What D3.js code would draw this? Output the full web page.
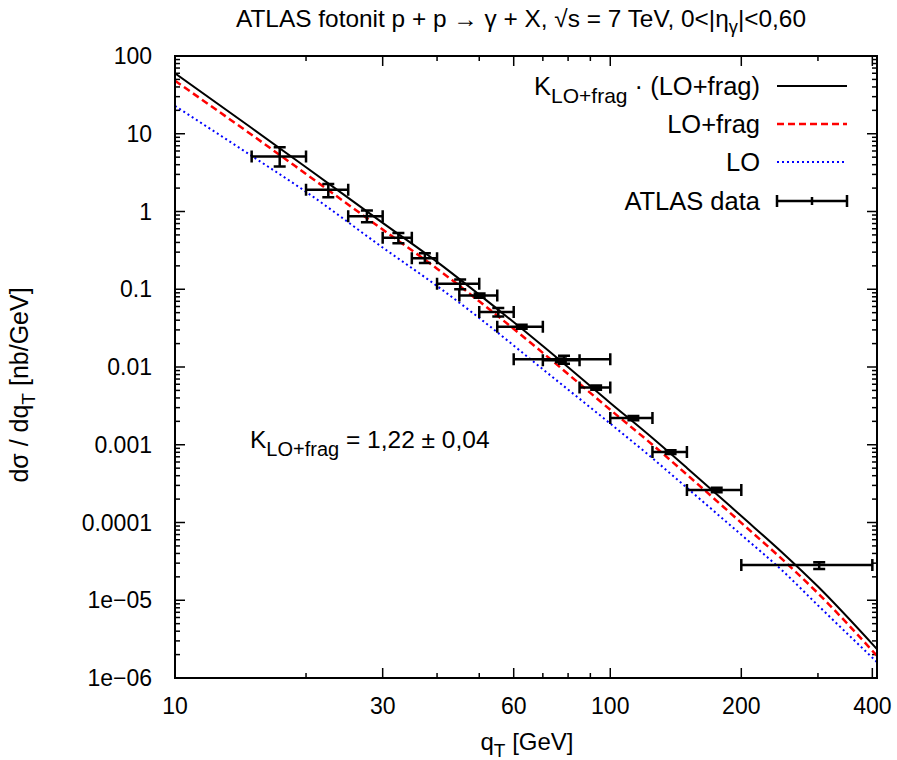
<!DOCTYPE html>
<html>
<head>
<meta charset="utf-8">
<script src="https://cdn.jsdelivr.net/npm/d3@7"></script>
<style>
  body { margin: 0; background: #fff; }
  text { font-family: "Liberation Sans", Arial, sans-serif; fill: #000; }
</style>
</head>
<body>
<svg id="chart" width="897" height="760"></svg>
<script>
// curves (log-log)
var curveX   = [10, 15, 20, 30, 40, 50, 70, 100, 125, 150, 200, 250, 300, 410];
var kLoFrag  = [60, 11.85, 3.71, 0.715, 0.225, 0.0853, 0.0186, 0.00345, 0.00122, 5.04e-4, 1.21e-4, 3.97e-5, 1.5e-5, 2.35e-6];
var loFrag   = [48, 9.7, 3.04, 0.586, 0.184, 0.070, 0.0152, 0.00282, 0.0010, 4.13e-4, 9.9e-5, 3.25e-5, 1.23e-5, 1.93e-6];
var loOnly   = [22.8, 5.19, 1.79, 0.344, 0.110, 0.0427, 0.00935, 0.00187, 6.72e-4, 2.79e-4, 6.95e-5, 2.33e-5, 8.6e-6, 1.6e-6];

// ATLAS data points
var dataX   = [17.4, 22.5, 27.6, 32.6, 37.5, 45.2, 50.1, 55.3, 62.6, 78.3, 77.0, 92.8, 113, 137.6, 175.6, 302];
var dataXlo = [15, 20, 25, 30, 35, 40, 45, 50, 55, 60, 70, 85, 100, 125, 150, 200];
var dataXhi = [20, 25, 30, 35, 40, 50, 55, 60, 70, 100, 85, 100, 125, 150, 200, 400];
var dataY   = [5.1, 1.9, 0.87, 0.46, 0.25, 0.118, 0.083, 0.051, 0.033, 0.0126, 0.0122, 0.00545, 0.00221, 8.06e-4, 2.62e-4, 2.84e-5];
var dataYlo = [3.8, 1.52, 0.73, 0.39, 0.217, 0.10, 0.078, 0.0447, 0.031, 0.0110, 0.0115, 0.0051, 0.00207, 7.6e-4, 2.45e-4, 2.52e-5];
var dataYhi = [6.7, 2.25, 1.03, 0.53, 0.29, 0.133, 0.088, 0.0573, 0.035, 0.0140, 0.0129, 0.0058, 0.00235, 8.5e-4, 2.8e-4, 3.08e-5];

// ticks
var xTicks = [10, 30, 60, 100, 200, 400];
var xMinor = [20, 40, 50, 70, 80, 90, 300];
var yTicks = [100, 10, 1, 0.1, 0.01, 0.001, 0.0001, 1e-5, 1e-6];
var yTickLabels = ["100", "10", "1", "0.1", "0.01", "0.001", "0.0001", "1e\u221205", "1e\u221206"];

var svg = d3.select("#chart");
var pLeft = 175, pRight = 877, pTop = 56, pBottom = 678;

var x = d3.scaleLog().domain([10, 410]).range([pLeft, pRight]);
var y = d3.scaleLog().domain([1e-6, 100]).range([pBottom, pTop]);

svg.append("defs").append("clipPath").attr("id", "plotclip")
  .append("rect").attr("x", pLeft).attr("y", pTop)
  .attr("width", pRight - pLeft).attr("height", pBottom - pTop);

// minor y ticks 2..9 in each decade
var yMinor = [];
yTicks.forEach(function(t) {
  if (t < 100) for (var k = 2; k <= 9; k++) yMinor.push(t * k);
});

var ticks = svg.append("g").attr("stroke", "#000").attr("stroke-width", 1.5);
var major = 10, minor = 5;
xTicks.forEach(function(t) {
  ticks.append("line").attr("x1", x(t)).attr("x2", x(t)).attr("y1", pBottom).attr("y2", pBottom - major);
  ticks.append("line").attr("x1", x(t)).attr("x2", x(t)).attr("y1", pTop).attr("y2", pTop + major);
});
xMinor.forEach(function(t) {
  ticks.append("line").attr("x1", x(t)).attr("x2", x(t)).attr("y1", pBottom).attr("y2", pBottom - minor);
  ticks.append("line").attr("x1", x(t)).attr("x2", x(t)).attr("y1", pTop).attr("y2", pTop + minor);
});
yTicks.forEach(function(t) {
  ticks.append("line").attr("x1", pLeft).attr("x2", pLeft + major).attr("y1", y(t)).attr("y2", y(t));
  ticks.append("line").attr("x1", pRight).attr("x2", pRight - major).attr("y1", y(t)).attr("y2", y(t));
});
yMinor.forEach(function(t) {
  ticks.append("line").attr("x1", pLeft).attr("x2", pLeft + minor).attr("y1", y(t)).attr("y2", y(t));
  ticks.append("line").attr("x1", pRight).attr("x2", pRight - minor).attr("y1", y(t)).attr("y2", y(t));
});

// tick labels
svg.append("g").selectAll("text").data(xTicks).enter().append("text")
  .attr("x", function(d) { return x(d); })
  .attr("y", 714)
  .attr("text-anchor", "middle")
  .attr("font-size", "23px")
  .text(function(d) { return d; });

svg.append("g").selectAll("text").data(yTicks).enter().append("text")
  .attr("x", 152)
  .attr("y", function(d) { return y(d) + 8; })
  .attr("text-anchor", "end")
  .attr("font-size", "23px")
  .text(function(d, i) { return yTickLabels[i]; });

// curves
var line = d3.line()
  .x(function(d) { return x(d[0]); })
  .y(function(d) { return y(d[1]); })
  .curve(d3.curveMonotoneX);

var plot = svg.append("g").attr("clip-path", "url(#plotclip)");

function series(vals) { return curveX.map(function(v, i) { return [v, vals[i]]; }); }

plot.append("path").datum(series(loOnly))
  .attr("fill", "none").attr("stroke", "#0000ff").attr("stroke-width", 2)
  .attr("stroke-dasharray", "2,3").attr("d", line);
plot.append("path").datum(series(loFrag))
  .attr("fill", "none").attr("stroke", "#ff0000").attr("stroke-width", 2.5)
  .attr("stroke-dasharray", "7,4").attr("d", line);
plot.append("path").datum(series(kLoFrag))
  .attr("fill", "none").attr("stroke", "#000").attr("stroke-width", 2)
  .attr("d", line);

// error bars
var cap = 6;
var eb = plot.append("g").attr("stroke", "#000").attr("stroke-width", 2.5).attr("fill", "none");
dataX.forEach(function(xv, i) {
  var px = x(xv), py = y(dataY[i]);
  var x0 = x(dataXlo[i]), x1 = x(dataXhi[i]);
  var y0 = y(dataYlo[i]), y1 = y(dataYhi[i]);
  eb.append("path").attr("d",
    "M" + x0 + "," + py + "H" + x1 +
    "M" + x0 + "," + (py - cap) + "V" + (py + cap) +
    "M" + x1 + "," + (py - cap) + "V" + (py + cap) +
    "M" + px + "," + y0 + "V" + y1 +
    "M" + (px - cap) + "," + y0 + "H" + (px + cap) +
    "M" + (px - cap) + "," + y1 + "H" + (px + cap));
});

// frame
svg.append("rect").attr("x", pLeft).attr("y", pTop)
  .attr("width", pRight - pLeft).attr("height", pBottom - pTop)
  .attr("fill", "none").attr("stroke", "#000").attr("stroke-width", 2);

// legend
var lgX = 760, lgL = 777, lgR = 847;
var rows = [86, 124, 162, 201];

var t1 = svg.append("text").attr("x", lgX).attr("y", rows[0] + 9).attr("text-anchor", "end").attr("font-size", "25.5px");
t1.append("tspan").text("K");
t1.append("tspan").attr("dy", 8).attr("font-size", "21px").text("LO+frag");
t1.append("tspan").attr("dy", -8).text(" \u00b7 (LO+frag)");

svg.append("text").attr("x", lgX).attr("y", rows[1] + 9).attr("text-anchor", "end").attr("font-size", "25.5px").text("LO+frag");
svg.append("text").attr("x", lgX).attr("y", rows[2] + 9).attr("text-anchor", "end").attr("font-size", "25.5px").text("LO");
svg.append("text").attr("x", lgX).attr("y", rows[3] + 9).attr("text-anchor", "end").attr("font-size", "25.5px").text("ATLAS data");

svg.append("line").attr("x1", lgL).attr("x2", lgR).attr("y1", rows[0]).attr("y2", rows[0])
  .attr("stroke", "#000").attr("stroke-width", 2);
svg.append("line").attr("x1", lgL).attr("x2", lgR).attr("y1", rows[1]).attr("y2", rows[1])
  .attr("stroke", "#ff0000").attr("stroke-width", 2.5).attr("stroke-dasharray", "7,4");
svg.append("line").attr("x1", lgL).attr("x2", lgR).attr("y1", rows[2]).attr("y2", rows[2])
  .attr("stroke", "#0000ff").attr("stroke-width", 2).attr("stroke-dasharray", "2,3");
var lr = rows[3], lm = (lgL + lgR) / 2;
svg.append("path").attr("d",
    "M" + lgL + "," + lr + "H" + lgR +
    "M" + lgL + "," + (lr - cap) + "V" + (lr + cap) +
    "M" + lgR + "," + (lr - cap) + "V" + (lr + cap) +
    "M" + lm + "," + (lr - 4) + "V" + (lr + 4))
  .attr("stroke", "#000").attr("stroke-width", 2.5).attr("fill", "none");

// K annotation
var ka = svg.append("text").attr("x", 250).attr("y", 448).attr("font-size", "24.5px");
ka.append("tspan").text("K");
ka.append("tspan").attr("dy", 8).attr("font-size", "20px").text("LO+frag");
ka.append("tspan").attr("dy", -8).text(" = 1,22 \u00b1 0,04");

// title (narrow-looking face in the original)
var tt = svg.append("text").attr("x", 521).attr("y", 27).attr("text-anchor", "middle")
  .attr("font-size", "24px").attr("textLength", 570).attr("lengthAdjust", "spacingAndGlyphs");
tt.append("tspan").text("ATLAS fotonit p + p \u2192 \u03b3 + X, \u221as = 7 TeV, 0<|\u03b7");
tt.append("tspan").attr("dy", 6).attr("font-size", "18px").text("\u03b3");
tt.append("tspan").attr("dy", -6).text("|<0,60");

// axis titles
var xl = svg.append("text").attr("x", 527).attr("y", 750).attr("text-anchor", "middle").attr("font-size", "24px");
xl.append("tspan").text("q");
xl.append("tspan").attr("dy", 7).attr("font-size", "19px").text("T");
xl.append("tspan").attr("dy", -7).text(" [GeV]");

var yl = svg.append("text").attr("transform", "translate(28,385) rotate(-90)")
  .attr("text-anchor", "middle").attr("font-size", "25px");
yl.append("tspan").text("d\u03c3 / dq");
yl.append("tspan").attr("dy", 7).attr("font-size", "19px").text("T");
yl.append("tspan").attr("dy", -7).text(" [nb/GeV]");
</script>
</body>
</html>
